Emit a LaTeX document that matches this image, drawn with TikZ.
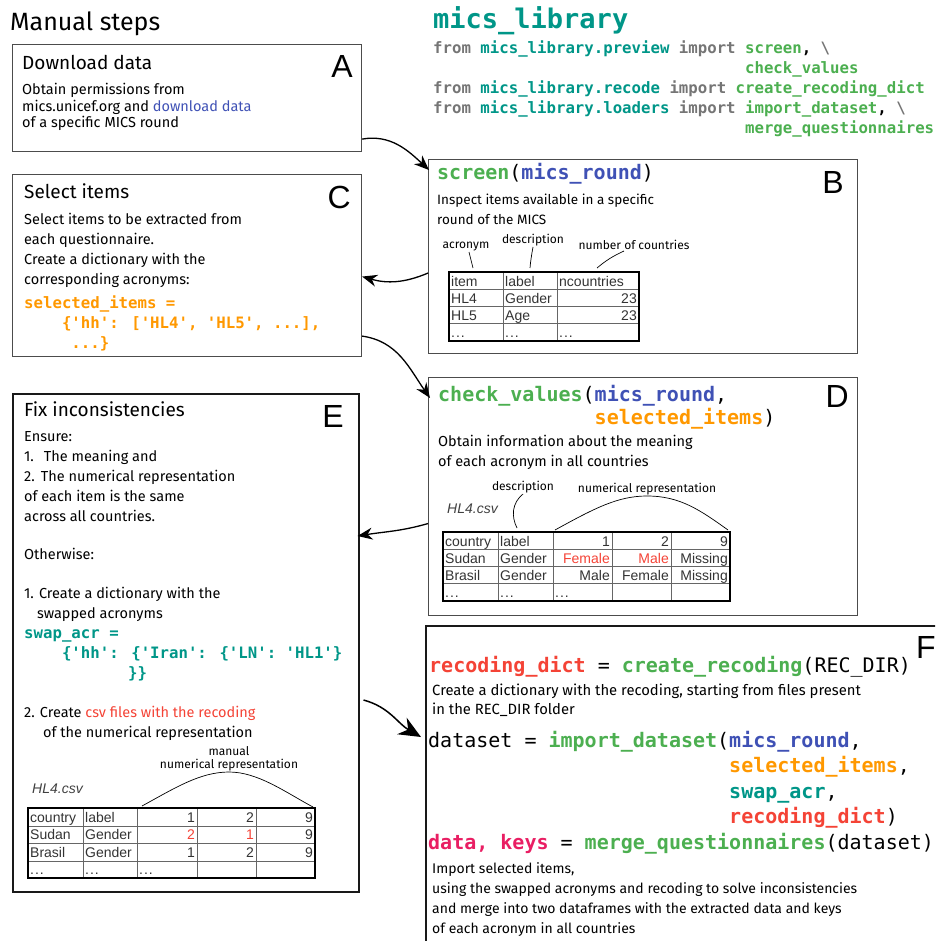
\documentclass[tikz,border=0pt]{standalone}
\usepackage{fontspec}
\setmainfont{Fira Sans}
\newfontfamily\codefont[Ligatures=TeXOff]{DejaVu Sans Mono}
\newfontfamily\tabfont{Liberation Sans}
\usetikzlibrary{arrows.meta}

\definecolor{libteal}{HTML}{009688}
\definecolor{fngreen}{HTML}{4CAF50}
\definecolor{argblue}{HTML}{3F51B5}
\definecolor{argorange}{HTML}{FF9800}
\definecolor{argred}{HTML}{F44336}
\definecolor{argpink}{HTML}{E91E63}
\definecolor{kwgray}{HTML}{757575}

% code snippets
\newcommand{\kw}[1]{\textbf{\color{kwgray}#1}}
\newcommand{\modname}[1]{\textbf{\color{libteal}#1}}
\newcommand{\fn}[1]{\textbf{\color{fngreen}#1}}
\newcommand{\argb}[1]{\textbf{\color{argblue}#1}}
\newcommand{\argo}[1]{\textbf{\color{argorange}#1}}
\newcommand{\argr}[1]{\textbf{\color{argred}#1}}
\newcommand{\argt}[1]{\textbf{\color{libteal}#1}}
\newcommand{\argp}[1]{\textbf{\color{argpink}#1}}
\newcommand{\codeskip}[1]{\hspace*{#1\fontcharwd\font`0}}
\newcommand{\cellmore}{.\kern1pt.\kern1pt.}

\begin{document}
\begin{tikzpicture}[x=1pt,y=1pt,
	box/.style={draw=black!70, line width=1.1pt, anchor=north west, inner sep=0pt},
	heavybox/.style={box, draw=black!90, line width=1.5pt},
	title/.style={anchor=base west, inner sep=0pt, font=\fontsize{19}{22}\selectfont},
	letter/.style={anchor=base east, inner sep=0pt, font=\tabfont\fontsize{32}{34}\selectfont},
	hand/.style={anchor=base west, align=left, inner sep=0pt, font=\fontsize{14.5}{20}\selectfont},
	code/.style={anchor=base west, align=left, inner sep=0pt, font=\codefont\fontsize{20}{25.5}\selectfont},
	smallcode/.style={anchor=base west, align=left, inner sep=0pt, font=\codefont\bfseries\fontsize{15.7}{20}\selectfont},
	note/.style={anchor=south, align=center, inner sep=1pt, font=\fontsize{12}{13}\selectfont},
	lcell/.style={anchor=base west, inner sep=0pt, text=black!80, font=\tabfont\fontsize{14}{14}\selectfont},
	rcell/.style={lcell, anchor=base east},
	csvname/.style={anchor=base west, inner sep=0pt, text=black!75, font=\tabfont\itshape\fontsize{14}{14}\selectfont},
	tabin/.style={black!60, line width=0.7pt},
	tabout/.style={black, line width=1.8pt},
	lead/.style={line width=0.7pt},
	flow/.style={-{Stealth[length=15pt,width=12pt]}, line width=1.3pt},
	bigflow/.style={-{Stealth[length=22pt,width=19pt]}, line width=1.5pt}]
	\useasboundingbox (0,0) rectangle (935,-941);
	\clip (0,0) rectangle (935,-941);

	% Boxes
	\node[box, minimum width=349pt, minimum height=107pt] (A) at (12,-44) {};
	\node[box, minimum width=429pt, minimum height=194pt] (B) at (428,-159) {};
	\node[box, minimum width=349pt, minimum height=182pt] (C) at (12,-174) {};
	\node[box, minimum width=429pt, minimum height=238pt] (D) at (428,-377) {};
	\node[heavybox, minimum width=346pt, minimum height=498pt] (E) at (12,-393) {};
	\node[heavybox, minimum width=540pt, minimum height=340pt] (F) at (425,-625) {};

	% Headings (multi-line nodes sit on their last baseline)
	\node[anchor=base west, inner sep=0pt, font=\fontsize{25}{28}\selectfont] (manual) at (10,-31) {Manual steps};
	\node[anchor=base west, inner sep=0pt, text=libteal, font=\codefont\bfseries\fontsize{27}{30}\selectfont] (lib) at (433,-29) {mics\_library};
	\node[smallcode] (imports) at (433,-134) {\kw{from} \modname{mics\_library.preview} \kw{import} \fn{screen}, \kw{\textbackslash}\\
		\codeskip{33}\fn{check\_values}\\
		\kw{from} \modname{mics\_library.recode} \kw{import} \fn{create\_recoding\_dict}\\
		\kw{from} \modname{mics\_library.loaders} \kw{import} \fn{import\_dataset}, \kw{\textbackslash}\\
		\codeskip{33}\fn{merge\_questionnaires}};

	% A
	\node[title] (Atitle) at (22,-70) {Download data};
	\node[letter] (Aletter) at (353,-78) {A};
	\node[hand, font=\fontsize{14.5}{16.5}\selectfont] (Atext) at (22,-128) {Obtain permissions from\\
		mics.unicef.org and \textcolor{argblue}{download data}\\
		of a specific MICS round};

	% B
	\node[code] (Bcode) at (437,-180) {\fn{screen}(\argb{mics\_round})};
	\node[letter] (Bletter) at (844,-194) {B};
	\node[hand, font=\fontsize{13.5}{20}\selectfont] (Btext) at (437,-225) {Inspect items available in a specific\\round of the MICS};
	\node[note] (bacr) at (466,-252) {acronym};
	\node[note] (bdesc) at (533,-247) {description};
	\node[note] (bnum) at (634,-251) {number of countries};
	\coordinate (bacr-end) at (473,-268);
	\coordinate (bdesc-end) at (530,-268);
	\coordinate (bnum-end) at (597,-268);
	\draw[lead] ([xshift=3pt]bacr.south) -- (bacr-end);
	\draw[lead] (bdesc.south) to[out=-100,in=85] (bdesc-end);
	\draw[lead] ([xshift=-10pt]bnum.south) to[out=205,in=40] (bnum-end);
	\draw[tabin] (503,-272) -- (503,-341) (557,-272) -- (557,-341)
		(449,-289) -- (639,-289) (449,-306) -- (639,-306) (449,-323) -- (639,-323);
	\draw[tabout] (449,-272) rectangle (639,-341);
	\foreach \n/\x/\y/\txt in {b1/451/286/item, b2/505/286/label, b3/559/286/ncountries,
		b4/451/303/HL4, b5/505/303/Gender, b7/451/320/HL5, b8/505/320/Age,
		b10/451/337/\cellmore, b11/505/337/\cellmore, b12/559/337/\cellmore}
		\node[lcell] (\n) at (\x,-\y) {\txt};
	\foreach \n/\x/\y/\txt in {b6/637/303/23, b9/637/320/23}
		\node[rcell] (\n) at (\x,-\y) {\txt};

	% C
	\node[title] (Ctitle) at (24,-199) {Select items};
	\node[letter] (Cletter) at (351,-208) {C};
	\node[hand] (Ctext) at (24,-284) {Select items to be extracted from\\each questionnaire.\\
		Create a dictionary with the\\corresponding acronyms:};
	\node[smallcode, text=argorange] (Ccode) at (24,-348) {selected\_items =\\
		\codeskip{4}\{'hh': ['HL4', 'HL5', ...],\\
		\codeskip{5}...\}};

	% D
	\node[code, font=\codefont\fontsize{20}{23}\selectfont] (Dcode) at (438,-424) {\fn{check\_values}(\argb{mics\_round},\\
		\codeskip{13}\argo{selected\_items})};
	\node[letter] (Dletter) at (849,-407) {D};
	\node[hand] (Dtext) at (438,-466) {Obtain information about the meaning\\of each acronym in all countries};
	\node[note] (ddesc) at (523,-494) {description};
	\node[note] (dnum) at (647,-496) {numerical representation};
	\node[csvname] (dcsv) at (447,-513) {HL4.csv};
	\coordinate (ddesc-end) at (517,-528);
	\coordinate (dnum-l) at (555,-530);
	\coordinate (dnum-r) at (728,-530);
	\draw[lead] (ddesc.south) .. controls (512,-503) and (511,-516) .. (ddesc-end);
	\draw[lead] (dnum-l) .. controls (595,-508) and (618,-496) .. (dnum.south)
		.. controls (680,-496) and (700,-510) .. (dnum-r);
	\draw[tabin] (498,-532) -- (498,-601) (553,-532) -- (553,-601) (612,-532) -- (612,-601) (671,-532) -- (671,-601)
		(443,-549) -- (730,-549) (443,-566) -- (730,-566) (443,-583) -- (730,-583);
	\draw[tabout] (443,-532) rectangle (730,-601);
	\foreach \n/\x/\y/\txt in {d1/445/546/country, d2/500/546/label,
		d6/445/563/Sudan, d7/500/563/Gender, d11/445/580/Brasil, d12/500/580/Gender,
		d16/445/597/\cellmore, d17/500/597/\cellmore, d18/555/597/\cellmore}
		\node[lcell] (\n) at (\x,-\y) {\txt};
	\foreach \n/\x/\y/\txt in {d3/610/546/1, d4/669/546/2, d5/728/546/9,
		d8/610/563/\textcolor{argred}{Female}, d9/669/563/\textcolor{argred}{Male}, d10/728/563/Missing,
		d13/610/580/Male, d14/669/580/Female, d15/728/580/Missing}
		\node[rcell] (\n) at (\x,-\y) {\txt};

	% E
	\node[title] (Etitle) at (24,-416) {Fix inconsistencies};
	\node[letter] (Eletter) at (344,-427) {E};
	\node[hand] (Etext) at (24,-618) {Ensure:\\1.\hspace{10pt}The meaning and\\2.\hspace{6pt}The numerical representation\\
		of each item is the same\\across all countries.\\[18pt]
		Otherwise:\\[19pt]
		1. Create a dictionary with the\\\hspace{13pt}swapped acronyms};
	\node[smallcode, text=libteal] (Ecode) at (24,-678) {swap\_acr =\\
		\codeskip{4}\{'hh': \{'Iran': \{'LN': 'HL1'\}\\
		\codeskip{11}\}\}};
	\node[hand] (Etext2) at (24,-737) {2. Create \textcolor{argred}{csv files with the recoding}\\
		\hspace{19pt}of the numerical representation};
	\node[note] (enum) at (229,-772) {manual\\numerical representation};
	\node[csvname] (ecsv) at (32,-793) {HL4.csv};
	\coordinate (enum-l) at (142,-806);
	\coordinate (enum-r) at (313,-807);
	\draw[lead] (enum-l) .. controls (175,-788) and (200,-772) .. (enum.south)
		.. controls (258,-772) and (285,-792) .. (enum-r);
	\draw[tabin] (83,-808) -- (83,-878) (137,-808) -- (137,-878) (197,-808) -- (197,-878) (256,-808) -- (256,-878)
		(28,-826) -- (315,-826) (28,-843) -- (315,-843) (28,-861) -- (315,-861);
	\draw[tabout] (28,-808) rectangle (315,-878);
	\foreach \n/\x/\y/\txt in {e1/30/822/country, e2/85/822/label,
		e6/30/839/Sudan, e7/85/839/Gender, e11/30/857/Brasil, e12/85/857/Gender,
		e16/30/874/\cellmore, e17/85/874/\cellmore, e18/139/874/\cellmore}
		\node[lcell] (\n) at (\x,-\y) {\txt};
	\foreach \n/\x/\y/\txt in {e3/195/822/1, e4/254/822/2, e5/313/822/9,
		e8/195/839/\textcolor{argred}{2}, e9/254/839/\textcolor{argred}{1}, e10/313/839/9,
		e13/195/857/1, e14/254/857/2, e15/313/857/9}
		\node[rcell] (\n) at (\x,-\y) {\txt};

	% F
	\node[letter, anchor=base west] (Fletter) at (916,-658) {F};
	\node[code] (Fcode) at (429,-672) {\argr{recoding\_dict} = \fn{create\_recoding}(REC\_DIR)};
	\node[hand, font=\fontsize{14.8}{19}\selectfont] (Ftext) at (432,-714) {Create a dictionary with the recoding, starting from files present\\in the REC\_DIR folder};
	\node[code] (Fcode2) at (428,-849) {dataset = \fn{import\_dataset}(\argb{mics\_round},\\
		\codeskip{25}\argo{selected\_items},\\
		\codeskip{25}\argt{swap\_acr},\\
		\codeskip{25}\argr{recoding\_dict})\\
		\argp{data, keys} = \fn{merge\_questionnaires}(dataset)};
	\node[hand, font=\fontsize{14}{20}\selectfont] (Ftext2) at (432,-933) {Import selected items,\\
		using the swapped acronyms and recoding to solve inconsistencies\\
		and merge into two dataframes with the extracted data and keys\\
		of each acronym in all countries};

	% Flow between steps
	\draw[flow] ([yshift=13pt]A.south east) to[out=10,in=137] ([xshift=1pt,yshift=-11pt]B.north west);
	\draw[flow] ([yshift=-16.5pt]B.west) to[out=203,in=-16] ([yshift=-11pt]C.east);
	\draw[flow] ([yshift=21pt]C.south east) to[out=-8,in=125] ([xshift=2pt,yshift=-21pt]D.north west);
	\draw[flow] ([yshift=-27pt]D.west) to[out=196,in=9] ([xshift=-2pt,yshift=-143pt]E.north east);
	\draw[bigflow] ([xshift=4pt,yshift=-307pt]E.north east) to[out=-15,in=150] ([xshift=-4pt,yshift=-112pt]F.north west);
\end{tikzpicture}
\end{document}
